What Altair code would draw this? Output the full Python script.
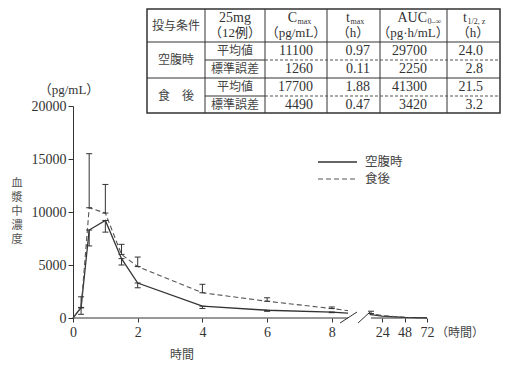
import altair as alt
import pandas as pd

# ---------------- data ----------------
times = [0, 0.25, 0.5, 1, 1.5, 2, 4, 6, 8, 12, 24, 48, 72]
fast_mean = [0, 1000, 8300, 9200, 5600, 3300, 1120, 730, 560, 320, 170, 50, 15]
fast_sd = [0, 650, 1500, 1100, 600, 450, 220, 100, 60, 0, 0, 0, 0]
fed_mean = [0, 950, 10400, 9900, 6000, 4850, 2380, 1580, 890, 420, 230, 60, 20]
fed_sd = [0, 1050, 5100, 2700, 950, 900, 800, 330, 150, 220, 0, 0, 0]
series = ["空腹時", "食後"]

y_ticks = list(range(0, 20001, 2500))
y_labels = [0, 5000, 10000, 15000, 20000]
x_ticks = [0, 1, 2, 3, 4, 5, 6, 7, 8, 12, 24, 36, 48, 60, 72]
x_labels = [0, 2, 4, 6, 8, 24, 48, 72]
y_title_chars = list("血漿中濃度")

# table contents
tbl_corner = "投与条件"
tbl_head1 = ["25mg", "C", "t", "AUC", "t"]
tbl_head_sub = ["", "max", "max", "0–∞", "1/2, z"]
tbl_head2 = ["（12例）", "（pg/mL）", "（h）", "（pg·h/mL）", "（h）"]
tbl_groups = ["空腹時", "食　後"]
tbl_stats = ["平均値", "標準誤差"]
tbl_values = [
    ["11100", "0.97", "29700", "24.0"],
    ["1260", "0.11", "2250", "2.8"],
    ["17700", "1.88", "41300", "21.5"],
    ["4490", "0.47", "3420", "3.2"],
]

# ---------------- layout (pixels, relative to plot origin) ----------------
W, H = 355, 212
X_DOMAIN = [0, 8.5, 12, 72]
X_RANGE = [0, 275, 298, 354]
GAP = [8.5, 11.8]

SERIF = "Liberation Serif, Noto Sans CJK JP"
CJK = "Noto Sans CJK JP"
INK = "#333333"

tbl_left, tbl_right, tbl_top, tbl_bot = 74, 427, -97, 7
col_edges = [132, 192, 254, 307, 374]
head_line = -64
row_lines = [-46, -28, -10]
head_centers = [162, 224, 277, 354, 394]  # split points for main/sub
head2_centers = [162, 223, 280, 340, 400]
head1_y, head2_y, corner_x, corner_y = -88, -73, 103, -80
row_y = [-55, -37, -19, -1.5]
group_y = [-46, -10]
stat_x = 162
value_right = [240, 297, 354, 410]
ytitle_x, ytitle_y0, ytitle_step = -56, 78, 14

# ---------------- main plot ----------------
xs = alt.Scale(domain=X_DOMAIN, range=X_RANGE, nice=False, zero=False)
ys = alt.Scale(domain=[0, 20000], nice=False, zero=False)

xaxis = alt.Axis(values=x_ticks, format="d", title=None, domain=False, grid=False,
                 labelExpr="indexof(%s, datum.value) >= 0 ? datum.label : ''" % str(x_labels),
                 tickSize=4, tickColor=INK, labelPadding=3, labelFont="Liberation Serif",
                 labelFontSize=14, labelColor=INK, labelOverlap=False, labelFlush=False,
                 labelBound=False)
yaxis = alt.Axis(values=y_ticks, format="d", title=None, grid=False,
                 labelExpr="datum.value % 5000 == 0 ? datum.label : ''",
                 tickSize=5, tickColor=INK, domainColor=INK, labelPadding=2,
                 labelFont="Liberation Serif", labelFontSize=14, labelColor=INK,
                 labelOverlap=False, labelFlush=False, labelBound=False)

df_fast = pd.DataFrame({"time": times, "conc": fast_mean})
df_fed = pd.DataFrame({"time": times, "conc": fed_mean})

line_fast = alt.Chart(df_fast).mark_line(color=INK, strokeWidth=1.3).encode(
    x=alt.X("time:Q", scale=xs, axis=xaxis),
    y=alt.Y("conc:Q", scale=ys, axis=yaxis),
)
line_fed = alt.Chart(df_fed).mark_line(color="#555555", strokeWidth=1.1, strokeDash=[5, 3]).encode(
    x=alt.X("time:Q", scale=xs),
    y=alt.Y("conc:Q", scale=ys),
)

mask = alt.Chart(pd.DataFrame({"a": [GAP[0]], "b": [GAP[1]]})).mark_rect(color="white").encode(
    x=alt.X("a:Q", scale=xs), x2="b:Q", y=alt.value(0), y2=alt.value(H + 0.5)
)

err_rows = []
cap_rows = []
for t, m, s in zip(times, fast_mean, fast_sd):
    if s > 0:
        err_rows.append({"time": t, "lo": m - s, "hi": m})
        cap_rows += [{"time": t, "v": m - s}, {"time": t, "v": m}]
for t, m, s in zip(times, fed_mean, fed_sd):
    if s > 0:
        err_rows.append({"time": t, "lo": m, "hi": m + s})
        cap_rows += [{"time": t, "v": m}, {"time": t, "v": m + s}]
df_err = pd.DataFrame(err_rows)
df_cap = pd.DataFrame(cap_rows)

err = alt.Chart(df_err).mark_rule(color=INK, strokeWidth=1).encode(
    x=alt.X("time:Q", scale=xs), y=alt.Y("lo:Q", scale=ys), y2="hi:Q"
)
caps = alt.Chart(df_cap).mark_point(shape="M-1,0L1,0", size=36, filled=False, color=INK,
                                     strokeWidth=1, opacity=1).encode(
    x=alt.X("time:Q", scale=xs), y=alt.Y("v:Q", scale=ys)
)

axis_line = alt.Chart(pd.DataFrame({"s": [X_DOMAIN[0], X_DOMAIN[2]], "e": [X_DOMAIN[1], X_DOMAIN[3]]})) \
    .mark_rule(color=INK, strokeWidth=1).encode(
        x=alt.X("s:Q", scale=xs), x2="e:Q", y=alt.datum(0)
    )

main = alt.layer(line_fast, line_fed, mask, err, caps, axis_line)

# ---------------- pixel-positioned annotations ----------------
PX = alt.Scale(domain=[0, 100], range=[0, 100], nice=False, zero=False)
PY = alt.Scale(domain=[0, 100], range=[0, 100], nice=False, zero=False)


def pxy(chart, two=False):
    enc = dict(x=alt.X("x:Q", scale=PX, axis=None), y=alt.Y("y:Q", scale=PY, axis=None))
    if two:
        enc.update(x2="x2:Q", y2="y2:Q")
    return chart.encode(**enc)


# axis break slashes
df_slash = pd.DataFrame({"x": [267, 285], "x2": [284, 297], "y": [217, 217], "y2": [206, 206]})
slash = pxy(alt.Chart(df_slash).mark_rule(color=INK, strokeWidth=1), two=True)

# axis titles
df_ytitle = pd.DataFrame({"x": [ytitle_x] * len(y_title_chars),
                          "y": [ytitle_y0 + i * ytitle_step for i in range(len(y_title_chars))],
                          "t": y_title_chars})
ytitle = pxy(alt.Chart(df_ytitle).mark_text(baseline="middle", align="center", font=CJK, fontSize=11.5,
                                            lineHeight=11.5, color="#555555")).encode(text="t:N")
df_unit = pd.DataFrame({"x": [-4], "y": [-16], "t": ["（pg/mL）"]})
unit = pxy(alt.Chart(df_unit).mark_text(font=SERIF, fontSize=13, color=INK, baseline="middle")).encode(text="t:N")
df_xt = pd.DataFrame({"x": [109, 387], "y": [249, 227], "t": ["時間", "（時間）"]})
xtitle = pxy(alt.Chart(df_xt).mark_text(font=CJK, fontSize=12, color="#444444", baseline="middle")).encode(text="t:N")

# legend
df_leg = pd.DataFrame({"x": [245, 245], "x2": [284, 284], "y": [56, 73], "y2": [56, 73], "t": series})
leg_solid = pxy(alt.Chart(df_leg.iloc[[0]]).mark_rule(color=INK, strokeWidth=1.3), two=True)
leg_dash = pxy(alt.Chart(df_leg.iloc[[1]]).mark_rule(color="#555555", strokeWidth=1.1, strokeDash=[5, 3]), two=True)
leg_txt = pxy(alt.Chart(df_leg.assign(x=292)).mark_text(align="left", baseline="middle", font=CJK,
                                                        fontSize=12.5, color="#444444")).encode(text="t:N")

# table lines
solid_rows = [
    {"x": tbl_left, "x2": tbl_right, "y": head_line, "y2": head_line},
    {"x": tbl_left, "x2": tbl_right, "y": row_lines[1], "y2": row_lines[1]},
    {"x": col_edges[0], "x2": col_edges[1], "y": row_lines[0], "y2": row_lines[0]},
    {"x": col_edges[0], "x2": col_edges[1], "y": row_lines[2], "y2": row_lines[2]},
]
for cx in col_edges:
    solid_rows.append({"x": cx, "x2": cx, "y": tbl_top, "y2": tbl_bot})
dashed_rows = [
    {"x": col_edges[1], "x2": tbl_right, "y": row_lines[0], "y2": row_lines[0]},
    {"x": col_edges[1], "x2": tbl_right, "y": row_lines[2], "y2": row_lines[2]},
]
tbl_solid = pxy(alt.Chart(pd.DataFrame(solid_rows)).mark_rule(color=INK, strokeWidth=1), two=True)
tbl_dashed = pxy(alt.Chart(pd.DataFrame(dashed_rows)).mark_rule(color="#555555", strokeWidth=1, strokeDash=[3, 2]), two=True)
tbl_box = pxy(alt.Chart(pd.DataFrame([{"x": tbl_left, "x2": tbl_right, "y": tbl_top, "y2": tbl_bot}]))
              .mark_rect(fill="white", stroke=INK, strokeWidth=1.5), two=True)

# table texts
cjk_rows = [{"x": corner_x, "y": corner_y, "t": tbl_corner}]
for gy, g in zip(group_y, tbl_groups):
    cjk_rows.append({"x": corner_x, "y": gy, "t": g})
for i, ry in enumerate(row_y):
    cjk_rows.append({"x": stat_x, "y": ry, "t": tbl_stats[i % 2]})
tbl_cjk = pxy(alt.Chart(pd.DataFrame(cjk_rows)).mark_text(font=CJK, fontSize=12, color="#444444",
                                                          baseline="middle")).encode(text="t:N")

head_main = [{"x": head_centers[i], "y": head1_y, "t": tbl_head1[i]} for i in range(1, 5)]
tbl_hmain = pxy(alt.Chart(pd.DataFrame(head_main)).mark_text(font=SERIF, fontSize=14, color=INK, align="right",
                                                             baseline="middle")).encode(text="t:N")
head_first = pd.DataFrame([{"x": head_centers[0], "y": head1_y, "t": tbl_head1[0]}])
tbl_hfirst = pxy(alt.Chart(head_first).mark_text(font=SERIF, fontSize=14, color=INK,
                                                 baseline="middle")).encode(text="t:N")
head_sub = [{"x": head_centers[i] + 0.5, "y": head1_y + 4, "t": tbl_head_sub[i]} for i in range(1, 5)]
tbl_hsub = pxy(alt.Chart(pd.DataFrame(head_sub)).mark_text(font=SERIF, fontSize=8, color=INK, align="left",
                                                           baseline="middle")).encode(text="t:N")
head2 = [{"x": head2_centers[i], "y": head2_y, "t": tbl_head2[i]} for i in range(5)]
tbl_h2 = pxy(alt.Chart(pd.DataFrame(head2)).mark_text(font=SERIF, fontSize=13, color=INK,
                                                      baseline="middle")).encode(text="t:N")
val_rows = []
for r, ry in enumerate(row_y):
    for c, vx in enumerate(value_right):
        val_rows.append({"x": vx, "y": ry, "t": tbl_values[r][c]})
tbl_vals = pxy(alt.Chart(pd.DataFrame(val_rows)).mark_text(font=SERIF, fontSize=14, color=INK, align="right",
                                                           baseline="middle")).encode(text="t:N")

pix = alt.layer(slash, ytitle, unit, xtitle, leg_solid, leg_dash, leg_txt,
                tbl_box, tbl_solid, tbl_dashed, tbl_cjk, tbl_hfirst, tbl_hmain, tbl_hsub, tbl_h2, tbl_vals)

chart = alt.layer(main, pix).resolve_scale(x="independent", y="independent").properties(
    width=W, height=H,
    autosize=alt.AutoSizeParams(type="none"),
    padding={"left": 65, "top": 98, "right": 73, "bottom": 46},
    background="white",
).configure_view(strokeWidth=0)

chart.save("out.html", embed_options={"renderer": "svg", "actions": False})
